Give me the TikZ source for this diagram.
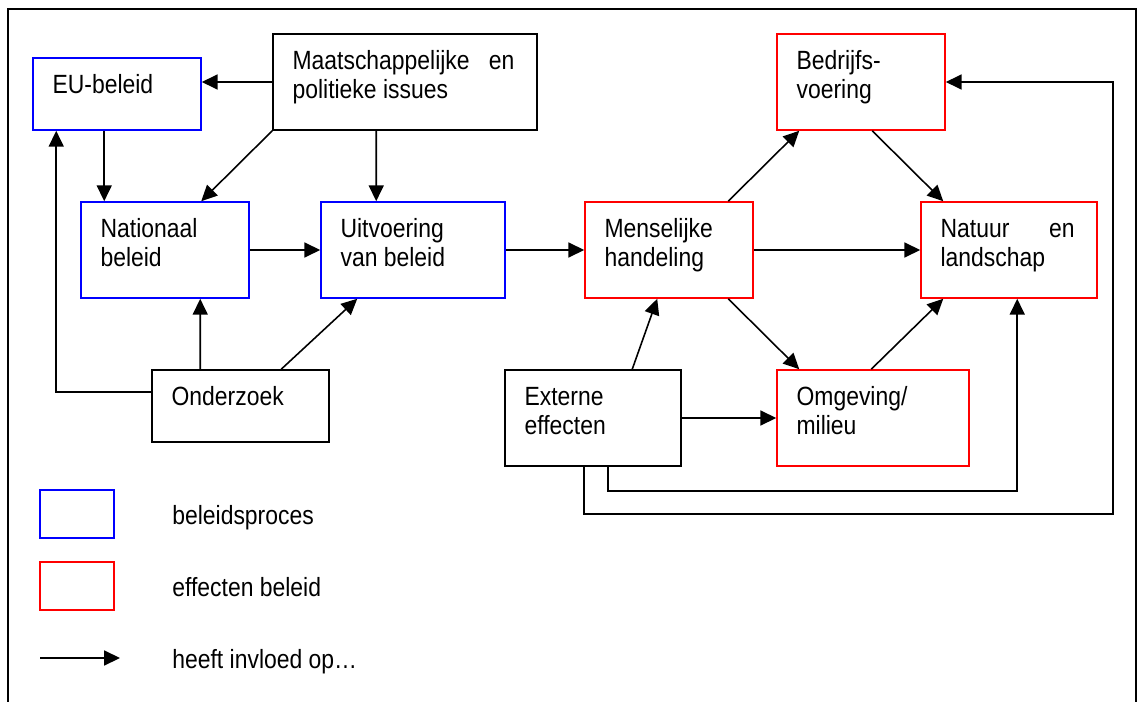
\documentclass[tikz,border=0pt]{standalone}
\usepackage{fontspec}
\setmainfont[FakeStretch=0.87]{Liberation Sans}
\usetikzlibrary{calc, positioning}
\usetikzlibrary{arrows.meta}

\begin{document}
\begin{tikzpicture}[x=0.02cm,y=-0.02cm,
  box/.style={draw, line width=0.9pt, inner sep=0pt, minimum width=3.36cm, minimum height=1.92cm},
  bbox/.style={box, draw=blue},
  rbox/.style={box, draw=red},
  kbox/.style={box, draw=black},
  txt/.style={anchor=base west, inner sep=0pt, font=\fontsize{15pt}{16.5pt}\selectfont},
  lbl/.style={txt, xshift=0.4cm, yshift=-0.72cm},
  arr/.style={line width=0.9pt, -{Triangle[length=9pt,width=8.5pt]}}]
\useasboundingbox (0,0) rectangle (1138,702);
\draw[line width=1pt] (8,702) -- (8,9) -- (1136,9) -- (1136,702);

\node[bbox, minimum height=1.44cm, label={[lbl]north west:EU-beleid}] (eu) at (117,94) {};
\node[kbox, minimum width=5.28cm,
  label={[lbl]north west:\parbox[t]{4.44cm}{Maatschappelijke\hfill en\\politieke issues}}] (maat) at (405,82) {};
\node[bbox, label={[lbl]north west:\parbox[t]{2.8cm}{Nationaal\\beleid}}] (nat) at (165,250) {};
\node[bbox, minimum width=3.68cm, label={[lbl]north west:\parbox[t]{3cm}{Uitvoering\\van beleid}}] (uit) at (413,250) {};
\node[kbox, minimum width=3.54cm, minimum height=1.44cm, label={[lbl]north west:Onderzoek}] (onder) at (240.5,406) {};
\node[rbox, label={[lbl]north west:\parbox[t]{2.8cm}{Menselijke\\handeling}}] (mens) at (669,250) {};
\node[rbox, label={[lbl]north west:\parbox[t]{2.8cm}{Bedrijfs-\\voering}}] (bedr) at (861,82) {};
\node[rbox, minimum width=3.52cm,
  label={[lbl]north west:\parbox[t]{2.68cm}{Natuur\hfill en\\landschap}}] (natuur) at (1009,250) {};
\node[kbox, minimum width=3.52cm, label={[lbl]north west:\parbox[t]{2.8cm}{Externe\\effecten}}] (ext) at (593,418) {};
\node[rbox, minimum width=3.84cm, label={[lbl]north west:\parbox[t]{3cm}{Omgeving/\\milieu}}] (omg) at (873,418) {};

\draw[arr] (maat.west) -- (maat.west -| eu.east);
\draw[arr] ($(eu.south west)+(72,0)$) -- ($(nat.north west)+(24,0)$);
\draw[arr] (maat.south west) -- ($(nat.north west)+(121,0)$);
\draw[arr] ($(maat.south west)+(104,0)$) -- ($(uit.north west)+(56,0)$);
\draw[arr] (nat.east) -- (uit.west);
\draw[arr] (uit.east) -- (mens.west);
\draw[arr] ($(onder.north west)+(0,23)$) -| ($(eu.south west)+(24,0)$);
\draw[arr] ($(onder.north west)+(49,0)$) -- ($(nat.south west)+(120,0)$);
\draw[arr] ($(onder.north west)+(130,0)$) -- ($(uit.south west)+(37,0)$);
\draw[arr] ($(mens.north west)+(144,0)$) -- ($(bedr.south west)+(23,0)$);
\draw[arr] ($(bedr.south west)+(96,0)$) -- ($(natuur.north west)+(23,0)$);
\draw[arr] (mens.east) -- (natuur.west);
\draw[arr] ($(mens.south west)+(144,0)$) -- ($(omg.north west)+(23,0)$);
\draw[arr] ($(omg.north west)+(95,0)$) -- ($(natuur.south west)+(23,0)$);
\draw[arr] ($(ext.north west)+(128,0)$) -- ($(mens.south west)+(73,0)$);
\draw[arr] (ext.east) -- (omg.west);
\draw[arr] ($(ext.south west)+(104,0)$) -- ++(0,24) -| ($(natuur.south west)+(97,0)$);
\coordinate (loop) at (1113,514);
\draw[arr] ($(ext.south west)+(80,0)$) |- (loop) |- (bedr.east);

\node[bbox, minimum width=1.48cm, minimum height=0.96cm] (legb) at (77,514) {};
\node[rbox, minimum width=1.48cm, minimum height=0.96cm] (legr) at (77,586) {};
\coordinate (lega) at (40,658);
\coordinate (legz) at (120,658);
\draw[arr] (lega) -- (legz);
\node[txt] (legbT) at (172,524) {beleidsproces};
\node[txt] (legrT) at (172,596) {effecten beleid};
\node[txt] (legaT) at (172,668) {heeft invloed op…};
\end{tikzpicture}
\end{document}
